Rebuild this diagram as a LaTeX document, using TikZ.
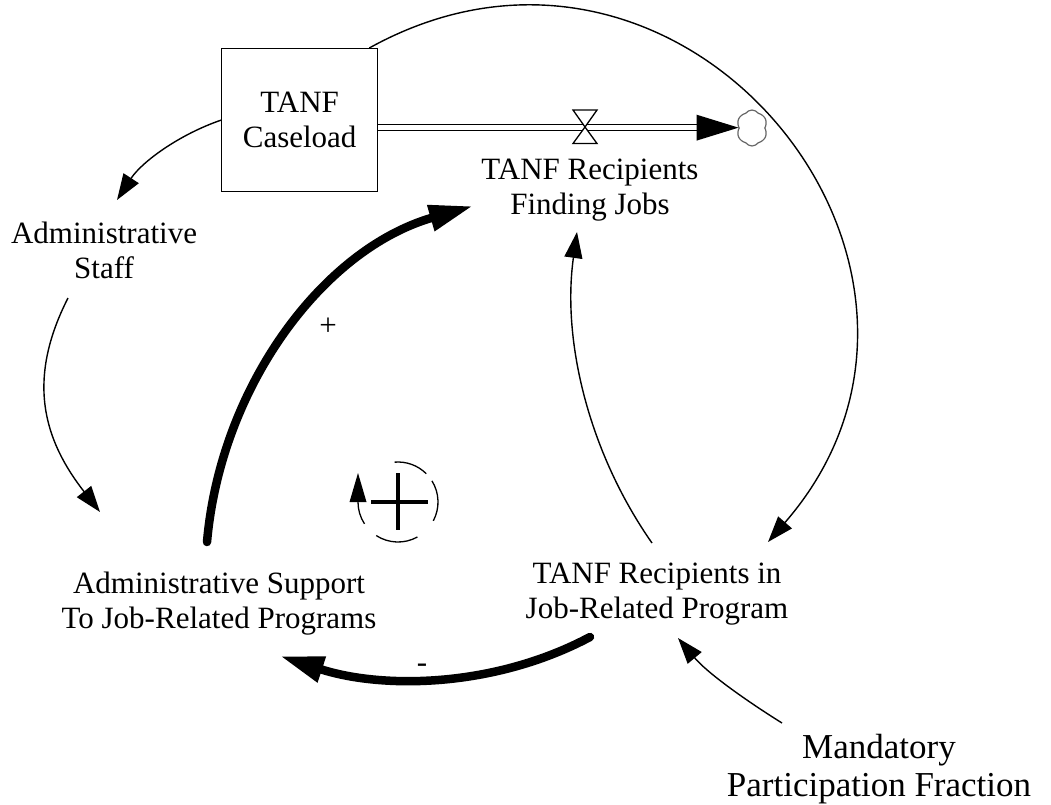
\documentclass[tikz,border=0pt]{standalone}
\usepackage{fontspec}
\setmainfont{Liberation Serif}
\usetikzlibrary{arrows.meta,shapes.symbols}
\begin{document}
\begin{tikzpicture}[x=1pt,y=1pt,
  vartext/.style={font=\fontsize{31}{35}\selectfont, align=center, inner sep=0pt},
  link/.style={line width=1.4pt, -{Triangle[length=26pt,width=18pt]}},
  strong/.style={line width=8.5pt, line cap=round, -{Triangle[length=44pt,width=25pt]}},
  pipe/.style={draw=black, line width=1.3pt, double=white, double distance=5pt},
  loopline/.style={line width=1.3pt},
]
\useasboundingbox (0,0) rectangle (1051,-804);

% stock
\node[draw, line width=1.3pt, minimum width=156pt, minimum height=143pt,
      vartext, anchor=north west] (caseload) at (221,-48) {TANF\\Caseload};

% sink cloud
\node[cloud, cloud puffs=6, cloud puff arc=110, draw=black!60, line width=1.2pt,
      minimum width=31pt, minimum height=36pt, inner sep=0pt] (sink) at (752,-128) {};

% outflow pipe with valve
\coordinate (pipestart) at ([yshift=-7.5pt]caseload.east);
\coordinate (pipetip) at (pipestart -| sink.west);
\draw[pipe] (pipestart) -- ([xshift=-41pt]pipetip);
\fill (pipetip) -- ++(-42,13) -- ++(0,-26) -- cycle;
\coordinate (valve) at (585,-127);
\filldraw[fill=white, line width=1.3pt]
  (valve) -- ++(-12,17) -- ++(24,0) -- cycle
  (valve) -- ++(-12,-16.5) -- ++(24,0) -- cycle;

% auxiliary variables (base anchor sits on the last line)
\node[vartext, anchor=base] (jobs) at (590,-214) {TANF Recipients\\Finding Jobs};
\node[vartext, anchor=base] (staff) at (104,-278) {Administrative\\Staff};
\node[vartext, anchor=base] (support) at (219,-628) {Administrative Support\\To Job-Related Programs};
\node[vartext, anchor=base] (program) at (657,-618) {TANF Recipients in\\Job-Related Program};
\node[vartext, font=\fontsize{35}{38}\selectfont, anchor=base] (mandatory) at (879,-796)
  {Mandatory\\Participation Fraction};

% connector end points
\coordinate (staffTip) at (117,-200);
\coordinate (staffOut) at (68,-298);
\coordinate (supportTip) at (100,-512);
\coordinate (arcStart) at ([xshift=-9pt]caseload.north east);
\coordinate (programTip) at (768,-542);
\coordinate (programOut) at (652,-543);
\coordinate (jobsTip) at (577,-232);
\coordinate (mandatoryOut) at (782,-723);
\coordinate (programTipB) at (678,-638);
\coordinate (supportOut) at (207,-542);
\coordinate (jobsTipB) at (473,-206);
\coordinate (programOutB) at (590,-637);
\coordinate (supportTipB) at (280,-656);

% thin causal links
\draw[link] (caseload.west) to[out=199,in=57,distance=45pt] (staffTip);
\draw[link] (staffOut) to[out=243,in=128,distance=92pt] (supportTip);
\draw[link] (arcStart) to[out=29,in=49,distance=361pt] (programTip);
\draw[link] (programOut) to[out=125,in=262,distance=110pt] (jobsTip);
\draw[link] (mandatoryOut) to[out=148,in=310,distance=45pt] (programTipB);

% emphasised loop links
\draw[strong] (supportOut) to[out=85,in=196,distance=156pt] (jobsTipB);
\draw[strong] (programOutB) to[out=208,in=342,distance=108pt] (supportTipB);

% polarities
\node[vartext] (pluslabel) at (328,-327) {+};
\node[vartext] (minuslabel) at (422,-668) {-};

% reinforcing loop marker
\coordinate (loop) at (398,-502);
\draw[loopline] ([shift={(45:40)}]loop) arc[start angle=45,end angle=95,radius=40];
\draw[loopline] ([shift={(-28:40)}]loop) arc[start angle=-28,end angle=32,radius=40];
\draw[loopline] ([shift={(-123:40)}]loop) arc[start angle=-123,end angle=-61,radius=40];
\draw[loopline] ([shift={(180:40)}]loop) arc[start angle=180,end angle=213,radius=40];
\fill ([shift={(-40,29)}]loop) -- ([shift={(-48.5,0)}]loop) -- ([shift={(-31.5,0)}]loop) -- cycle;
\draw[line width=3.3pt] ([yshift=29pt]loop) -- ([yshift=-28pt]loop)
                        ([xshift=-27pt]loop) -- ([xshift=30pt]loop);
\end{tikzpicture}
\end{document}
